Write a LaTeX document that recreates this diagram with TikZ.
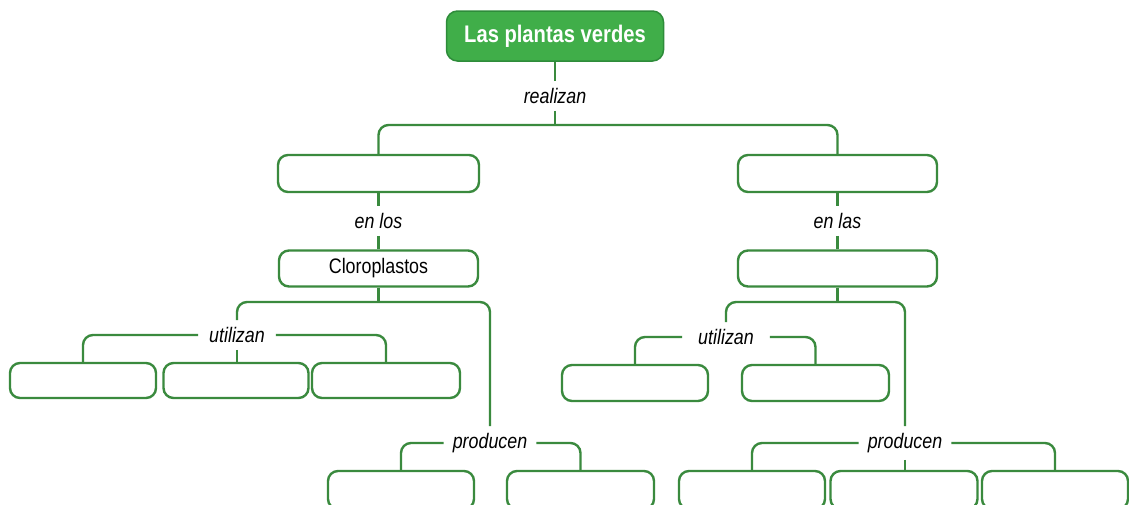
\documentclass[tikz,border=0pt]{standalone}
\usepackage{fontspec}
\setmainfont{Liberation Sans}
\newfontfamily\condfont[FakeStretch=0.85]{Liberation Sans}
\newfontfamily\titlefont[FakeStretch=0.84]{Liberation Sans}
\definecolor{boxgreen}{RGB}{58,138,62}
\definecolor{fillgreen}{RGB}{64,174,73}
\definecolor{edgegreen}{RGB}{46,140,58}
\begin{document}
\begin{tikzpicture}[x=1pt,y=-1pt,
 box/.style={draw=boxgreen, line width=2.4pt, rounded corners=10pt, minimum height=36pt, inner sep=0pt, font=\condfont\fontsize{21}{24}\selectfont},
 titlebox/.style={draw=edgegreen, fill=fillgreen, line width=1.5pt, rounded corners=11pt, minimum width=217pt, minimum height=50pt, text=white, font=\titlefont\bfseries\fontsize{24}{28}\selectfont},
 lbl/.style={inner xsep=9pt, inner ysep=7pt, font=\condfont\itshape\fontsize{21}{24}\selectfont},
 conn/.style={draw=boxgreen, line width=2.4pt},
 brk/.style={conn, rounded corners=10pt}]
\useasboundingbox (0,0) rectangle (1129,504);
\fill[white] (0,0) rectangle (1129,504);
\clip (0,0) rectangle (1129,504);
% nodes
\node[titlebox] (title) at (555,36) {Las plantas verdes};
\node[lbl] (realizan) at (555,96) {realizan};
\coordinate (j1) at (555,125);
\node[box, minimum width=201pt, minimum height=37pt] (l2a) at (378.5,173.5) {};
\node[box, minimum width=199pt, minimum height=37pt] (l2b) at (837.5,173.5) {};
\node[lbl] (enlos) at (378.5,221) {en los};
\node[lbl] (enlas) at (837.5,221) {en las};
\node[box, minimum width=199pt] (l3a) at (378.5,268.5) {Cloroplastos};
\node[box, minimum width=199pt] (l3b) at (837.5,268.5) {};
\coordinate (j3a) at (378.5,302);
\coordinate (j3b) at (837.5,302);
\node[lbl, inner xsep=11pt] (utilL) at (237,335) {utilizan};
\node[lbl, inner xsep=16pt] (utilR) at (726,337) {utilizan};
\node[lbl] (prodL) at (490,443) {producen};
\node[lbl] (prodR) at (905,443) {producen};
\node[box, minimum width=146pt, minimum height=35pt] (b4a) at (83,380.5) {};
\node[box, minimum width=145pt, minimum height=35pt] (b4b) at (236,380.5) {};
\node[box, minimum width=148pt, minimum height=35pt] (b4c) at (386,380.5) {};
\node[box, minimum width=146pt] (b4d) at (635,383) {};
\node[box, minimum width=147pt] (b4e) at (815.5,383) {};
\node[box, minimum width=146pt, minimum height=38pt] (b5a) at (401,490) {};
\node[box, minimum width=147pt, minimum height=38pt] (b5b) at (580.5,490) {};
\node[box, minimum width=146pt, minimum height=38pt] (b5c) at (752,490) {};
\node[box, minimum width=147pt, minimum height=38pt] (b5d) at (904,490) {};
\node[box, minimum width=146pt, minimum height=38pt] (b5e) at (1055,490) {};
% connectors
\draw[conn] (title) -- (realizan);
\draw[conn] (realizan) -- (j1);
\draw[brk] (l2a.north) |- (j1) -| (l2b.north);
\draw[conn] (l2a) -- (enlos);
\draw[conn] (enlos) -- (l3a);
\draw[conn] (l2b) -- (enlas);
\draw[conn] (enlas) -- (l3b);
\draw[conn] (l3a) -- (j3a);
\draw[conn] (l3b) -- (j3b);
\draw[brk] (utilL) |- (j3a) -| (prodL);
\draw[brk] (utilR) |- (j3b) -| (prodR);
\draw[brk] (b4a) |- (utilL);
\draw[brk] (utilL) -| (b4c);
\draw[conn] (utilL.south) -- (utilL.south |- b4b.north);
\draw[brk] (b4d) |- (utilR);
\draw[brk] (utilR) -| (b4e);
\draw[brk] (b5a) |- (prodL);
\draw[brk] (prodL) -| (b5b);
\draw[brk] (b5c) |- (prodR);
\draw[brk] (prodR) -| (b5e);
\draw[conn] (prodR.south) -- (prodR.south |- b5d.north);
\end{tikzpicture}
\end{document}
